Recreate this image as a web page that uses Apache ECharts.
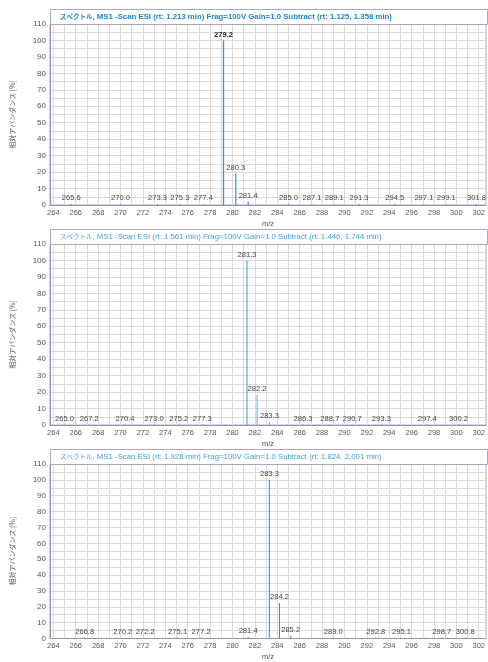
<!DOCTYPE html>
<html>
<head>
<meta charset="utf-8">
<script src="https://cdn.jsdelivr.net/npm/echarts@6/dist/echarts.min.js"></script>
<style>
  html, body { margin: 0; padding: 0; background: #fff; }
  #chart { width: 488px; height: 662px; }
</style>
</head>
<body>
<div id="chart"></div>
<script>
// Three MS1 scans (ESI), relative abundance vs m/z

const mzMin = 263.7;
const mzMax = 302.65;
const abundMax = 110;
const xAxisName = 'm/z';
const yAxisName = '相対アバンダンス [%]';

const spectrumWord = 'スペクトル';
const titleTails = [
  ', MS1 -Scan ESI (rt: 1.213 min) Frag=100V Gain=1.0 Subtract (rt: 1.125, 1.358 min)',
  ', MS1 -Scan ESI (rt: 1.561 min) Frag=100V Gain=1.0 Subtract (rt: 1.446, 1.744 min)',
  ', MS1 -Scan ESI (rt: 1.928 min) Frag=100V Gain=1.0 Subtract (rt: 1.824, 2.001 min)'
];

// scan 1 (rt 1.213 min)
const scan1Mz    = [265.6, 270.0, 273.3, 275.3, 277.4, 279.2, 280.3, 281.4, 285.0, 287.1, 289.1, 291.3, 294.5, 297.1, 299.1, 301.8];
const scan1Abund = [0.5,   0.5,   0.5,   0.5,   0.5,   100,   19.2,  2.3,   0.5,   0.5,   0.5,   0.5,   0.5,   0.5,   0.5,   0.5];

// scan 2 (rt 1.561 min)
const scan2Mz    = [265.0, 267.2, 270.4, 273.0, 275.2, 277.3, 281.3, 282.2, 283.3, 286.3, 288.7, 290.7, 293.3, 297.4, 300.2];
const scan2Abund = [0.4,   0.4,   0.4,   0.4,   0.4,   0.4,   100,   18.2,  2.0,   0.4,   0.4,   0.4,   0.4,   0.4,   0.4];

// scan 3 (rt 1.928 min)
const scan3Mz    = [266.8, 270.2, 272.2, 275.1, 277.2, 281.4, 283.3, 284.2, 285.2, 289.0, 292.8, 295.1, 298.7, 300.8];
const scan3Abund = [0.8,   0.3,   0.3,   0.6,   0.6,   1.0,   100,   22.3,  1.6,   0.7,   0.7,   0.3,   0.6,   0.6];
// unlabelled minor peaks in scan 3
const scan3MinorMz    = [277.9, 287.1, 297.2];
const scan3MinorAbund = [0.5,   0.5,   0.5];

const panelTops = [24, 244, 464];
const panelHeight = 181;
const plotLeft = 50;
const titleBarHeight = 15;
const barColors = ['#0f7fdc', '#55aee9', '#2790de'];
const titleColors = ['#1a86d6', '#3b9fe0', '#3b9fe0'];
const activePanel = 0;

const FONT = "'Liberation Sans', Arial, 'Noto Sans CJK JP', sans-serif";
const CJK = "'Noto Sans CJK JP', sans-serif";

const scans = [
  { mz: scan1Mz, ab: scan1Abund, minorMz: [], minorAb: [] },
  { mz: scan2Mz, ab: scan2Abund, minorMz: [], minorAb: [] },
  { mz: scan3Mz, ab: scan3Abund, minorMz: scan3MinorMz, minorAb: scan3MinorAbund }
];

const grids = [], xAxes = [], yAxes = [], series = [], titles = [], graphics = [];

scans.forEach((s, i) => {
  const top = panelTops[i];
  const color = barColors[i];
  const isActive = i === activePanel;
  const basePeak = Math.max.apply(null, s.ab);

  grids.push({
    left: plotLeft, right: 0, top: top, height: panelHeight,
    show: true, borderColor: '#a9a9c2', borderWidth: 1, backgroundColor: '#fff'
  });

  xAxes.push({
    gridIndex: i, type: 'value', min: mzMin, max: mzMax,
    splitNumber: 39, minInterval: 1, maxInterval: 1,
    name: xAxisName, nameLocation: 'middle', nameGap: 15,
    nameTextStyle: { fontFamily: FONT, fontSize: 7.5, color: '#555' },
    axisLine: { show: true, onZero: false, lineStyle: { color: '#9494ae', width: 1 } },
    axisTick: { show: false },
    axisLabel: {
      margin: 4, fontFamily: FONT, fontSize: 7.5, color: '#555',
      showMinLabel: false, showMaxLabel: false,
      formatter: v => (Math.abs(v - Math.round(v)) < 1e-6 && Math.round(v) % 2 === 0) ? String(Math.round(v)) : ''
    },
    splitLine: { show: true, lineStyle: { color: '#dadada', width: 1 } }
  });

  yAxes.push({
    gridIndex: i, type: 'value', min: 0, max: abundMax, interval: 5,
    name: yAxisName, nameLocation: 'middle', nameGap: 34,
    nameTextStyle: { fontFamily: CJK, fontSize: 7, color: '#555' },
    axisLine: { show: true, lineStyle: { color: '#9494ae', width: 1 } },
    axisTick: { show: false },
    axisLabel: {
      margin: 4, fontFamily: FONT, fontSize: 8, color: '#555',
      formatter: v => (v % 10 === 0 ? String(v) : '')
    },
    splitLine: { show: true, lineStyle: { color: '#dadada', width: 1 } }
  });

  const data = s.mz.map((m, k) => {
    const item = { value: [m, s.ab[k]] };
    if (s.ab[k] === basePeak) {
      item.itemStyle = { borderWidth: 0.5, borderColor: color };
      if (isActive) item.label = { fontWeight: 'bold', color: '#222' };
    }
    return item;
  });

  series.push({
    type: 'bar', xAxisIndex: i, yAxisIndex: i,
    barWidth: 1, barGap: '-100%',
    itemStyle: { color: color },
    label: {
      show: true, position: 'top', distance: 2,
      fontFamily: FONT, fontSize: 7.6, color: '#444',
      formatter: p => p.value[0].toFixed(1)
    },
    data: data, silent: true, animation: false
  });

  if (s.minorMz.length) {
    series.push({
      type: 'bar', xAxisIndex: i, yAxisIndex: i,
      barWidth: 1, itemStyle: { color: color }, label: { show: false },
      data: s.minorMz.map((m, k) => [m, s.minorAb[k]]),
      silent: true, animation: false
    });
  }

  graphics.push({
    type: 'rect', z: 5,
    shape: { x: plotLeft + 0.5, y: top - titleBarHeight + 0.5, width: 488 - plotLeft - 1, height: titleBarHeight },
    style: { fill: '#fff', stroke: '#a9a9c2', lineWidth: 1 }
  });

  titles.push({
    left: 60, top: top - titleBarHeight, padding: 0, z: 10,
    text: '{k|' + spectrumWord + '}{r|' + titleTails[i] + '}',
    textStyle: {
      rich: {
        k: { fontFamily: CJK, fontSize: 6.5, fontWeight: isActive ? 'bold' : 'normal', color: titleColors[i], lineHeight: titleBarHeight },
        r: { fontFamily: FONT, fontSize: 7.8, fontWeight: isActive ? 'bold' : 'normal', color: titleColors[i], lineHeight: titleBarHeight }
      }
    }
  });
});

const chart = echarts.init(document.getElementById('chart'), null, { renderer: 'canvas' });
chart.setOption({
  animation: false,
  backgroundColor: '#fff',
  title: titles,
  grid: grids,
  xAxis: xAxes,
  yAxis: yAxes,
  series: series,
  graphic: graphics
});
</script>
</body>
</html>
